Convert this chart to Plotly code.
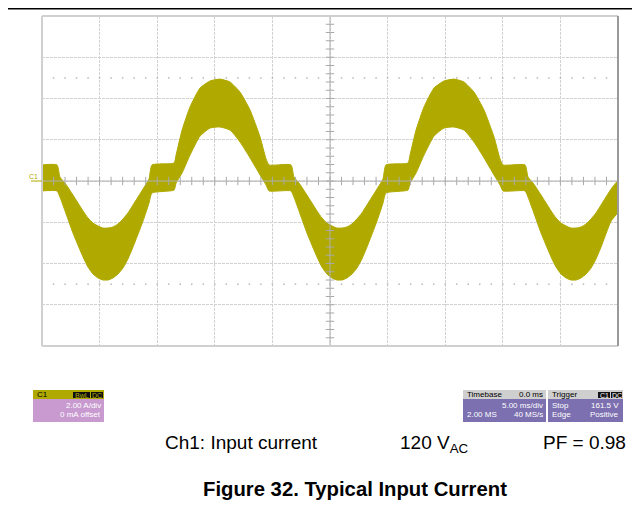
import plotly.graph_objects as go
import numpy as np

# ---------------- data (time in ms, current in A) ----------------
t_ms = [0.00, 1.30, 1.56, 2.00, 2.69, 3.56, 3.99, 4.43, 4.86, 5.29, 5.73, 6.16, 6.60, 7.03, 7.46, 7.90, 8.77, 9.29, 9.55,
        11.46, 11.64, 12.16, 12.85, 13.72, 14.59, 15.45, 16.32, 17.19, 18.06, 18.93, 19.45, 19.71,
        21.61, 21.87, 22.31, 23.00, 23.87, 24.30, 24.74, 25.17, 25.60, 26.04, 26.47, 26.91, 27.34, 27.77, 28.21, 29.08, 29.60, 29.86,
        31.77, 31.95, 32.47, 33.16, 34.03, 34.90, 35.76, 36.63, 37.50, 38.37, 39.24, 39.76, 40.02,
        41.93, 42.19, 42.63, 43.32, 44.19, 44.62, 45.06, 45.49, 45.92, 46.36, 46.79, 47.23, 47.66, 48.09, 48.53, 49.40, 50.00]
i_upper = [0.78, 0.78, 0.19, -0.10, -0.68, -1.45, -1.79, -2.04, -2.18, -2.28, -2.28, -2.23, -2.08, -1.84, -1.55, -1.16, -0.39, 0.10, 0.78,
           0.87, 1.26, 2.47, 3.59, 4.51, 4.85, 4.94, 4.80, 4.31, 3.44, 2.13, 1.07, 0.78,
           0.78, 0.19, -0.10, -0.68, -1.45, -1.79, -2.04, -2.18, -2.28, -2.28, -2.23, -2.08, -1.84, -1.55, -1.16, -0.39, 0.10, 0.78,
           0.87, 1.26, 2.47, 3.59, 4.51, 4.85, 4.94, 4.80, 4.31, 3.44, 2.13, 1.07, 0.78,
           0.78, 0.19, -0.10, -0.68, -1.45, -1.79, -2.04, -2.18, -2.28, -2.28, -2.23, -2.08, -1.84, -1.55, -1.16, -0.39, 0.00]
i_lower = [-0.48, -0.48, -0.78, -1.45, -2.52, -3.68, -4.17, -4.51, -4.70, -4.80, -4.80, -4.70, -4.51, -4.22, -3.78, -3.20, -1.94, -1.07, -0.58,
           -0.44, -0.10, 0.39, 1.26, 2.18, 2.57, 2.62, 2.47, 1.89, 1.12, 0.29, -0.19, -0.48,
           -0.48, -0.78, -1.45, -2.52, -3.68, -4.17, -4.51, -4.70, -4.80, -4.80, -4.70, -4.51, -4.22, -3.78, -3.20, -1.94, -1.07, -0.58,
           -0.44, -0.10, 0.39, 1.26, 2.18, 2.57, 2.62, 2.47, 1.89, 1.12, 0.29, -0.19, -0.48,
           -0.48, -0.78, -1.45, -2.52, -3.68, -4.17, -4.51, -4.70, -4.80, -4.80, -4.70, -4.51, -4.22, -3.78, -3.20, -1.94, -1.50]

x_range = [0, 50]          # 10 div x 5 ms/div
y_range = [-8, 8]          # 8 div x 2 A/div
x_div, y_div = 5, 2

caption_items = ["Ch1: Input current", "120 V<sub>AC</sub>", "PF = 0.98"]
figure_title = "Figure 32. Typical Input Current"

WAVE = "#b0aa00"
GRID = "#d2d2d2"
FONT = "Liberation Sans, Arial, sans-serif"

OFF = 8                      # default page body margin
W, H = 640 - OFF, 510 - OFF
L, T = 42 - OFF, 16 - OFF
PW, PH = 576, 330
R = W - L - PW
B = H - T - PH


def px(x):
    """page x pixel -> paper coordinate"""
    return (x - OFF - L) / PW


def py(y):
    """page y pixel -> paper coordinate"""
    return (T + PH - (y - OFF)) / PH


fig = go.Figure()

# band of the switching-ripple current waveform
fig.add_trace(go.Scatter(
    x=t_ms + t_ms[::-1], y=i_upper + i_lower[::-1],
    fill="toself", fillcolor=WAVE, mode="lines",
    line=dict(color=WAVE, width=1, shape="spline", smoothing=0.5),
    hoverinfo="skip", showlegend=False))

# center axes tick marks
xc = (x_range[0] + x_range[1]) / 2
minor_x = np.arange(x_range[0], x_range[1] + 1e-9, x_div / 5)
minor_y = np.arange(y_range[0], y_range[1] + 1e-9, y_div / 5)
fig.add_trace(go.Scatter(x=minor_x, y=[0] * len(minor_x), mode="markers",
                         marker=dict(symbol="line-ns", size=6, line=dict(color="#a8a8a8", width=1)),
                         hoverinfo="skip", showlegend=False))
fig.add_trace(go.Scatter(x=[xc] * len(minor_y), y=minor_y, mode="markers",
                         marker=dict(symbol="line-ew", size=6, line=dict(color="#a8a8a8", width=1)),
                         hoverinfo="skip", showlegend=False))
# dotted rows at +/- 2.5 div
for yy in (2.5 * y_div, -2.5 * y_div):
    fig.add_trace(go.Scatter(x=minor_x, y=[yy] * len(minor_x), mode="markers",
                             marker=dict(symbol="square", size=1.5, color="#b8b8b8"),
                             hoverinfo="skip", showlegend=False))

shapes = []
# center axes
shapes.append(dict(type="line", xref="x", yref="y", x0=x_range[0], x1=x_range[1], y0=0, y1=0,
                   line=dict(color="#b0b0b0", width=1)))
shapes.append(dict(type="line", xref="x", yref="y", x0=xc, x1=xc, y0=y_range[0], y1=y_range[1],
                   line=dict(color="#b0b0b0", width=1)))
# frame
shapes.append(dict(type="line", xref="paper", yref="paper", x0=0, x1=0, y0=0, y1=1,
                   line=dict(color="#d0d0d0", width=2)))
shapes.append(dict(type="line", xref="paper", yref="paper", x0=0, x1=1, y0=1, y1=1,
                   line=dict(color="#d0d0d0", width=2)))
shapes.append(dict(type="line", xref="paper", yref="paper", x0=0, x1=1, y0=0, y1=0,
                   line=dict(color="#d0d0d0", width=2)))
shapes.append(dict(type="line", xref="paper", yref="paper", x0=1, x1=1, y0=0, y1=1,
                   line=dict(color="#9a9a9a", width=2)))
# top page rule
shapes.append(dict(type="line", xref="paper", yref="paper", x0=px(0), x1=px(640), y0=py(8.6), y1=py(8.6),
                   line=dict(color="#000000", width=2)))
# C1 ground marker
shapes.append(dict(type="line", xref="paper", yref="paper", x0=px(31), x1=px(42), y0=py(181), y1=py(181),
                   line=dict(color=WAVE, width=1)))

annotations = [dict(x=px(40), y=py(176), xref="paper", yref="paper", text="C1", showarrow=False,
                    xanchor="right", yanchor="middle", font=dict(family=FONT, size=7, color=WAVE))]


def rect(x0, y0, x1, y1, color):
    shapes.append(dict(type="rect", xref="paper", yref="paper", x0=px(x0), x1=px(x1), y0=py(y1), y1=py(y0),
                       fillcolor=color, line=dict(width=0), layer="above"))


def label(x, y, text, anchor="left", color="#ffffff", size=8, weight="normal"):
    annotations.append(dict(x=px(x), y=py(y), xref="paper", yref="paper", text=text, showarrow=False,
                            xanchor=anchor, yanchor="middle",
                            font=dict(family=FONT, size=size, color=color, weight=weight)))


# C1 info box
rect(33, 390, 104, 422, "#c89ad0")
rect(33, 390, 104, 399, WAVE)
rect(73, 392, 90, 398, "#111111")
rect(91, 392, 103, 398, "#111111")
label(35, 394.5, "C1", color="#000000")
label(81.5, 395, "BwL", anchor="center", color=WAVE, size=7)
label(97, 395, "DC", anchor="center", color=WAVE, size=7)
label(103, 405, "2.00 A/div", anchor="right")
label(103, 414, "0 mA offset", anchor="right")

# Timebase box
rect(463, 390, 546, 422, "#7c70b0")
rect(463, 390, 546, 399, "#cfcfcf")
label(465, 394.5, "Timebase", color="#000000")
label(545, 394.5, "0.0 ms", anchor="right", color="#000000")
label(545, 405, "5.00 ms/div", anchor="right")
label(465, 414, "2.00 MS")
label(545, 414, "40 MS/s", anchor="right")

# Trigger box
rect(548, 390, 623, 422, "#7c70b0")
rect(548, 390, 623, 399, "#cfcfcf")
rect(598, 392, 610, 398, "#111111")
rect(611, 392, 622, 398, "#111111")
label(550, 394.5, "Trigger", color="#000000")
label(604, 395, "C1", anchor="center", size=7)
label(616.5, 395, "DC", anchor="center", size=7)
label(550, 405, "Stop")
label(621, 405, "161.5 V", anchor="right")
label(550, 414, "Edge")
label(621, 414, "Positive", anchor="right")

# caption row
label(163, 442, caption_items[0], color="#000000", size=19)
label(398, 444, caption_items[1], color="#000000", size=19)
label(541, 442, caption_items[2], color="#000000", size=19)
# figure title
label(355, 489, figure_title, anchor="center", color="#000000", size=20.3, weight="bold")

fig.update_layout(
    width=W, height=H, margin=dict(l=L, r=R, t=T, b=B, pad=0),
    paper_bgcolor="white", plot_bgcolor="white",
    xaxis=dict(range=x_range, dtick=x_div, tick0=0, showgrid=True, gridcolor=GRID, griddash="3px,1px",
               gridwidth=1, zeroline=False, showticklabels=False, ticks="", showline=False, fixedrange=True),
    yaxis=dict(range=y_range, dtick=y_div, tick0=0, showgrid=True, gridcolor=GRID, griddash="3px,1px",
               gridwidth=1, zeroline=False, showticklabels=False, ticks="", showline=False, fixedrange=True),
    shapes=shapes, annotations=annotations, showlegend=False,
)

fig.write_html("out.html")
